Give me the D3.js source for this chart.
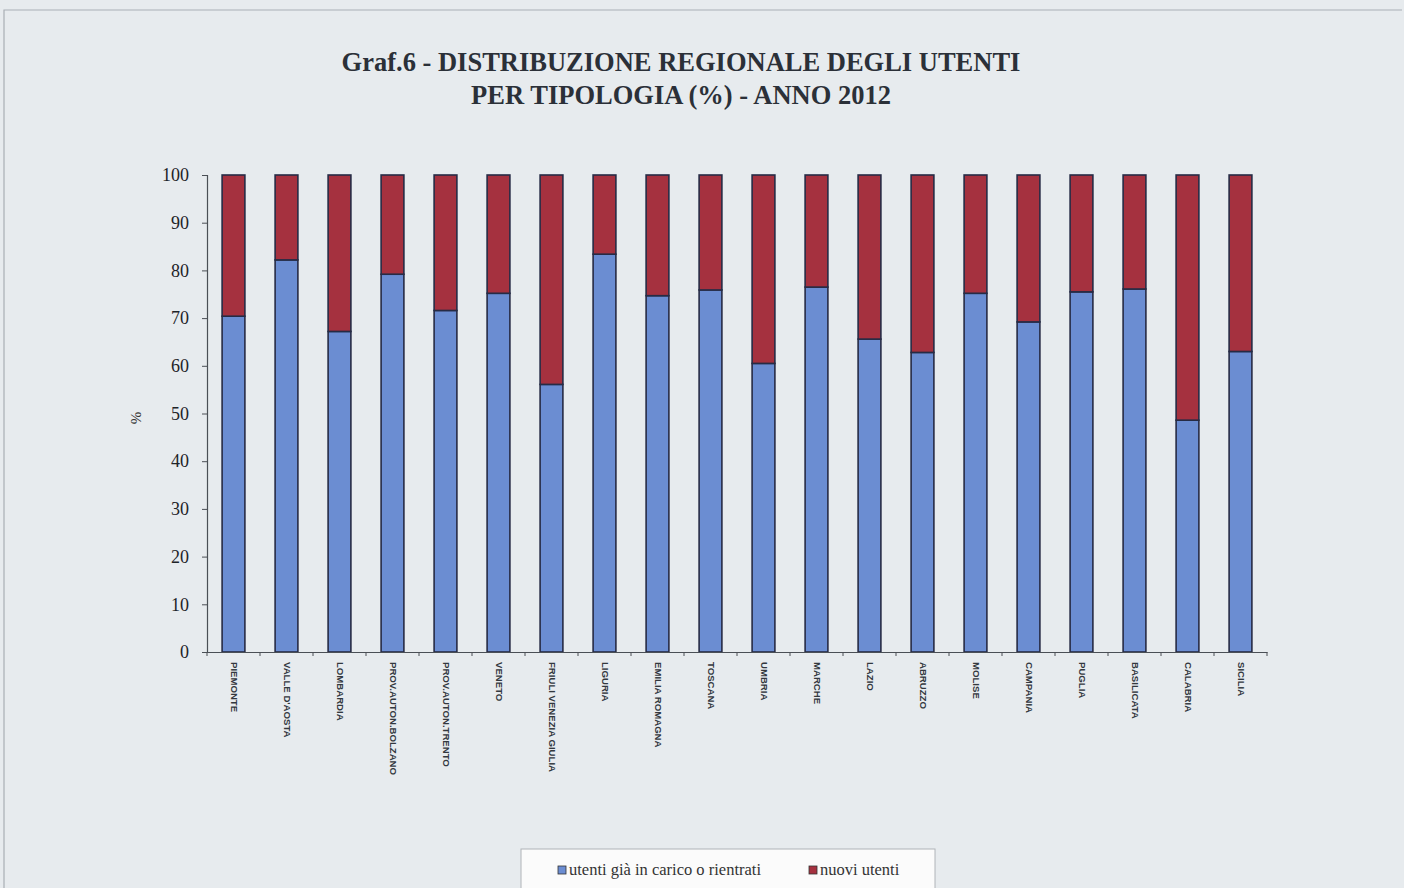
<!DOCTYPE html>
<html><head><meta charset="utf-8">
<script src="https://cdn.jsdelivr.net/npm/d3@7"></script>
<style>
html,body{margin:0;padding:0;background:#e8ecef;}
svg{display:block;}
</style></head>
<body>
<script>
const categories = ["PIEMONTE","VALLE D'AOSTA","LOMBARDIA","PROV.AUTON.BOLZANO","PROV.AUTON.TRENTO","VENETO","FRIULI VENEZIA GIULIA","LIGURIA","EMILIA ROMAGNA","TOSCANA","UMBRIA","MARCHE","LAZIO","ABRUZZO","MOLISE","CAMPANIA","PUGLIA","BASILICATA","CALABRIA","SICILIA"];
const utentiGia = [70.4,82.2,67.2,79.2,71.6,75.2,56.1,83.4,74.7,75.9,60.5,76.5,65.6,62.8,75.2,69.2,75.5,76.1,48.6,63.0];
const nuoviUtenti = [29.6,17.8,32.8,20.8,28.4,24.8,43.9,16.6,25.3,24.1,39.5,23.5,34.4,37.2,24.8,30.8,24.5,23.9,51.4,37.0];
const seriesNames = ["utenti già in carico o rientrati","nuovi utenti"];
const yTicks = [0,10,20,30,40,50,60,70,80,90,100];

(function(){
const W = 1404, H = 888;
const svg = d3.select("body").append("svg").attr("width", W).attr("height", H);

svg.append("rect").attr("x",0).attr("y",0).attr("width",W).attr("height",H).attr("fill","#e7ebee");
svg.append("path").attr("d","M4,888 L4,10 L1402,10").attr("fill","none").attr("stroke","#a9afb5").attr("stroke-width",1.2);

const pL = 207, pR = 1267, pT = 175, pB = 652;
const x = d3.scaleBand().domain(categories).range([pL,pR]).paddingInner(0.57).paddingOuter(0.285);
const y = d3.scaleLinear().domain([0,100]).range([pB, pT]);

const colors = ["#6b8dd2","#a5313f"];
const data = categories.map((c,i)=>({cat:c, a:utentiGia[i], b:nuoviUtenti[i]}));
const stack = d3.stack().keys(["a","b"])(data);

stack.forEach((layer,li)=>{
  svg.append("g").selectAll("rect").data(layer).join("rect")
    .attr("x", d=>x(d.data.cat))
    .attr("width", x.bandwidth())
    .attr("y", d=>y(d[1]))
    .attr("height", d=>y(d[0])-y(d[1]))
    .attr("fill", colors[li])
    .attr("stroke","#262b45").attr("stroke-width",1.6);
});

const ya = svg.append("g").attr("transform",`translate(${pL},0)`)
  .call(d3.axisLeft(y).tickValues(yTicks).tickSize(5).tickPadding(13));
ya.select(".domain").attr("stroke","#4a4f55").attr("stroke-width",1.2);
ya.selectAll(".tick line").attr("stroke","#4a4f55");
ya.selectAll("text").attr("font-family","'Liberation Serif','DejaVu Serif',serif").attr("font-size",18).attr("fill","#1e2328");

const xa = svg.append("g").attr("transform",`translate(0,${pB})`)
  .call(d3.axisBottom(x).tickSize(0).tickFormat(""));
xa.select(".domain").attr("stroke","#4a4f55").attr("stroke-width",1.2);
svg.append("g").selectAll("line").data(d3.range(categories.length+1)).join("line")
  .attr("x1",i=>pL + i*(pR-pL)/categories.length).attr("x2",i=>pL + i*(pR-pL)/categories.length)
  .attr("y1",pB).attr("y2",pB+4)
  .attr("stroke","#4a4f55");

svg.append("g").selectAll("text").data(categories).join("text")
  .attr("transform", d=>`translate(${x(d)+x.bandwidth()/2},${pB+10}) rotate(90)`)
  .attr("font-family","'Liberation Sans',Arial,sans-serif")
  .attr("font-weight","bold").attr("font-size",9.6).attr("fill","#33383e")
  .attr("dominant-baseline","middle")
  .text(d=>d);

svg.append("text").attr("transform","translate(131,418) rotate(90)")
  .attr("text-anchor","middle").attr("font-family","'Liberation Serif',serif").attr("font-size",15).attr("fill","#333")
  .text("%");

const t = svg.append("text").attr("text-anchor","middle").attr("font-family","'Liberation Serif','Times New Roman',serif")
  .attr("font-weight","bold").attr("font-size",26.5).attr("fill","#2b3038");
t.append("tspan").attr("x",681).attr("y",71).text("Graf.6 - DISTRIBUZIONE REGIONALE DEGLI UTENTI");
t.append("tspan").attr("x",681).attr("y",104).text("PER TIPOLOGIA (%) - ANNO 2012");

const lg = svg.append("g");
lg.append("rect").attr("x",521).attr("y",849).attr("width",414).attr("height",41).attr("fill","#fbfbfb").attr("stroke","#b0b4b8");
const lx = [558, 809];
seriesNames.forEach((n,i)=>{
  lg.append("rect").attr("x",lx[i]).attr("y",866).attr("width",8).attr("height",8).attr("fill",colors[i]).attr("stroke","#333").attr("stroke-width",0.8);
  lg.append("text").attr("x",lx[i]+11).attr("y",875).attr("font-family","'Liberation Serif',serif").attr("font-size",16.5).attr("fill","#333").text(n);
});
})();
</script>
</body></html>
